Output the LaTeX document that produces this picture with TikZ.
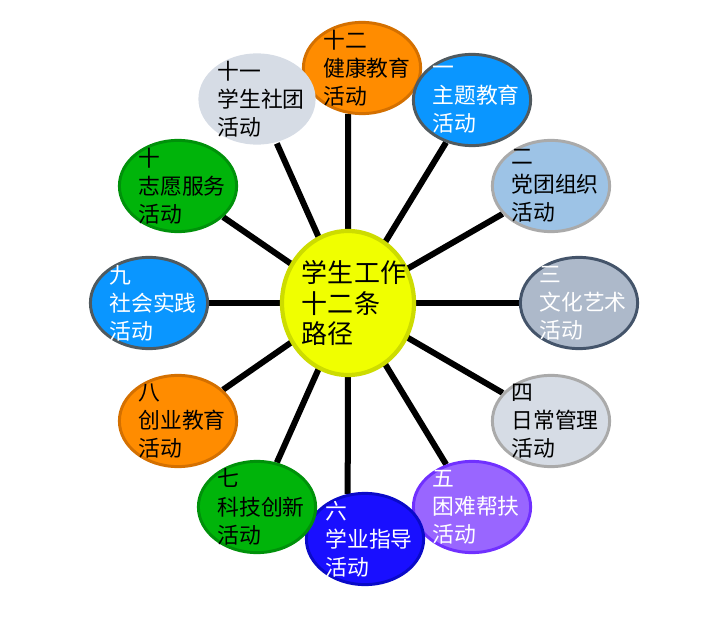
\documentclass[tikz,border=0pt]{standalone}
\usepackage{fontspec}
\setmainfont{Noto Sans CJK SC}
\usetikzlibrary{backgrounds, shapes.geometric}
\definecolor{orangeF}{RGB}{255,140,0}
\definecolor{orangeD}{RGB}{212,112,0}
\definecolor{skyF}{RGB}{10,150,255}
\definecolor{slateD}{RGB}{80,90,95}
\definecolor{paleF}{RGB}{214,220,229}
\definecolor{lightbF}{RGB}{157,195,230}
\definecolor{greyD}{RGB}{170,170,170}
\definecolor{steelF}{RGB}{173,185,202}
\definecolor{navyD}{RGB}{68,84,106}
\definecolor{violetF}{RGB}{153,102,255}
\definecolor{violetD}{RGB}{112,48,255}
\definecolor{blueF}{RGB}{25,15,255}
\definecolor{blueD}{RGB}{10,10,200}
\definecolor{greenF}{RGB}{0,180,10}
\definecolor{greenD}{RGB}{0,145,10}
\definecolor{yellowF}{RGB}{240,255,0}
\definecolor{yellowD}{RGB}{205,220,0}
\tikzstyle{act} = [ellipse, minimum width=2.93cm, minimum height=2.28cm, inner sep=0pt, line width=2.1pt]
\tikzstyle{btxt} = [align=left, text=black, font=\fontsize{15.5}{20}\selectfont]
\tikzstyle{wtxt} = [align=left, text=white, font=\fontsize{15.5}{20}\selectfont]
\tikzstyle{hub} = [ellipse, minimum width=3.3cm, minimum height=3.6cm, inner sep=0pt, line width=3pt, fill=yellowF, draw=yellowD]
\tikzstyle{spoke} = [line width=0.15cm, black]
\begin{document}
\begin{tikzpicture}[x=0.025cm, y=-0.025cm]
\useasboundingbox (0,0) rectangle (727,622);

\node (c) [hub, label={[align=left, font=\fontsize{18.5}{22}\selectfont, xshift=0.15cm]center:学生工作\\十二条\\路径}] at (348,303) {};

\node (e12) [act, fill=orangeF, draw=orangeD, label={[btxt, xshift=0.12cm]center:十二\\健康教育\\活动}] at (362,68) {};
\node (e1) [act, fill=skyF, draw=slateD, label={[wtxt, xshift=0.1cm]center:一\\主题教育\\活动}] at (472,100) {};
\node (e2) [act, fill=lightbF, draw=greyD, label={[btxt, xshift=0.1cm]center:二\\党团组织\\活动}] at (551,186) {};
\node (e3) [act, fill=steelF, draw=navyD, label={[wtxt, xshift=0.1cm]center:三\\文化艺术\\活动}] at (579,303) {};
\node (e4) [act, fill=paleF, draw=greyD, label={[btxt, xshift=0.1cm]center:四\\日常管理\\活动}] at (551,421) {};
\node (e5) [act, fill=violetF, draw=violetD, label={[wtxt, xshift=0.1cm]center:五\\困难帮扶\\活动}] at (472,507) {};
\node (e6) [act, fill=blueF, draw=blueD, label={[wtxt, xshift=0.1cm]center:六\\学业指导\\活动}] at (365,539) {};
\node (e7) [act, fill=greenF, draw=greenD, label={[btxt, xshift=0.1cm]center:七\\科技创新\\活动}] at (257,507) {};
\node (e8) [act, fill=orangeF, draw=orangeD, label={[btxt, xshift=0.1cm]center:八\\创业教育\\活动}] at (178,421) {};
\node (e9) [act, fill=skyF, draw=slateD, label={[wtxt, xshift=0.1cm]center:九\\社会实践\\活动}] at (149,303) {};
\node (e10) [act, fill=greenF, draw=greenD, label={[btxt, xshift=0.1cm]center:十\\志愿服务\\活动}] at (178,186) {};
\node (e11) [act, fill=paleF, label={[btxt, xshift=0.1cm]center:十一\\学生社团\\活动}] at (257,99) {};

\begin{scope}[on background layer]
    \foreach \n in {e1,e2,e3,e4,e5,e7,e8,e9,e10,e11}
        \draw[spoke] (c.center) -- (\n);
    \draw[spoke] (c.center) -- (e12.253);
    \draw[spoke] (c.center) -- (e6.111);
\end{scope}

\end{tikzpicture}
\end{document}
